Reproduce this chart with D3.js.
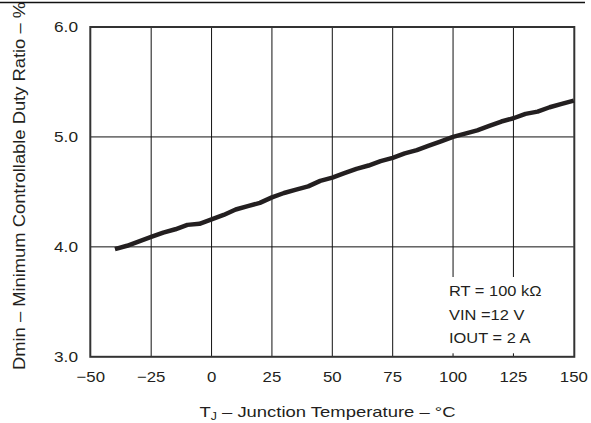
<!DOCTYPE html>
<html lang="en">
<head>
  <meta charset="UTF-8">
  <title>Dmin vs Junction Temperature</title>
  <script src="https://d3js.org/d3.v7.min.js"></script>
  <style>
    body { margin: 0; background: #fff; }
    text { font-family: "Liberation Sans", Arial, sans-serif; fill: #231f20; }
  </style>
</head>
<body>
<div class="main"></div>
<script>
  // data
  var temps = [-40, -35, -30, -25, -20, -15, -10, -5, 0, 5, 10, 15, 20, 25, 30, 35, 40, 45, 50, 55,
               60, 65, 70, 75, 80, 85, 90, 95, 100, 105, 110, 115, 120, 125, 130, 135, 140, 145, 150];
  var dmin = [3.98, 4.01, 4.05, 4.09, 4.13, 4.16, 4.20, 4.21, 4.25, 4.29, 4.34, 4.37, 4.40, 4.45, 4.49, 4.52, 4.55, 4.60, 4.63, 4.67,
              4.71, 4.74, 4.78, 4.81, 4.85, 4.88, 4.92, 4.96, 5.00, 5.03, 5.06, 5.10, 5.14, 5.17, 5.21, 5.23, 5.27, 5.30, 5.33];
  var xTicks = [-50, -25, 0, 25, 50, 75, 100, 125, 150];
  var yTicks = [3, 4, 5, 6];
  var notes = ["RT = 100 k\u03A9", "VIN =12 V", "IOUT = 2 A"];

  let width = 591;
  let height = 423;
  let svg = d3.select(".main").append("svg").attr("width", width).attr("height", height).style("display", "block");

  let padL = 90.8, padR = 573.8, padT = 27, padB = 356.8;
  let x = d3.scaleLinear().domain([-50, 150]).range([padL, padR]);
  let y = d3.scaleLinear().domain([3, 6]).range([padB, padT]);

  // top rule
  svg.append("line").attr("x1", 0).attr("x2", 585).attr("y1", 2.5).attr("y2", 2.5)
    .style("stroke", "#111").style("stroke-width", 1.6);

  // grid
  svg.append("g").selectAll("line").data(xTicks.slice(1, -1)).join("line")
    .attr("x1", d => x(d)).attr("x2", d => x(d)).attr("y1", padT).attr("y2", padB)
    .style("stroke", "#111").style("stroke-width", 1);
  svg.append("g").selectAll("line").data(yTicks.slice(1, -1)).join("line")
    .attr("x1", padL).attr("x2", padR).attr("y1", d => y(d)).attr("y2", d => y(d))
    .style("stroke", "#111").style("stroke-width", 1);

  // white panel behind the conditions
  svg.append("rect").attr("x", 444).attr("y", 277).attr("width", padR - 444).attr("height", padB - 3.5 - 277)
    .style("fill", "#fff");

  // frame
  svg.append("rect").attr("x", padL - 0.5).attr("y", padT).attr("width", padR - padL + 1).attr("height", padB - padT)
    .style("fill", "none").style("stroke", "#333").style("stroke-width", 2);

  // tick labels
  svg.append("g").selectAll("text").data(yTicks).join("text")
    .attr("transform", d => "translate(78," + (y(d) + 5.3) + ") scale(1.15,1)")
    .attr("text-anchor", "end").style("font-size", "15px")
    .text(d => d3.format(".1f")(d));
  svg.append("g").selectAll("text").data(xTicks).join("text")
    .attr("transform", d => "translate(" + x(d) + ",381.5) scale(1.12,1)")
    .attr("text-anchor", "middle").style("font-size", "15px")
    .text(d => d3.format("")(d).replace("-", "\u2212"));

  // axis titles
  let xt = svg.append("text").attr("transform", "translate(327.5,417) scale(1.23,1)")
    .attr("text-anchor", "middle").style("font-size", "15px");
  xt.append("tspan").text("T");
  xt.append("tspan").attr("dy", 3).style("font-size", "10px").text("J");
  xt.append("tspan").attr("dy", -3).text(" \u2013 Junction Temperature \u2013  \u00B0C");

  svg.append("text").attr("transform", "translate(25,186) rotate(-90)").attr("text-anchor", "middle")
    .attr("textLength", 368).attr("lengthAdjust", "spacingAndGlyphs")
    .style("font-size", "16px").text("Dmin \u2013 Minimum Controllable Duty Ratio \u2013 %");

  // curve
  let line = d3.line().x((d, i) => x(temps[i])).y(d => y(d));
  svg.append("path").datum(dmin).attr("d", line)
    .style("fill", "none").style("stroke", "#231f20").style("stroke-width", 4.5).style("stroke-linejoin", "round");

  // conditions
  svg.append("g").selectAll("text").data(notes).join("text")
    .attr("transform", (d, i) => "translate(449," + (296 + i * 23.5) + ") scale(1.06,1)")
    .style("font-size", "15.5px").text(d => d);
</script>
</body>
</html>
